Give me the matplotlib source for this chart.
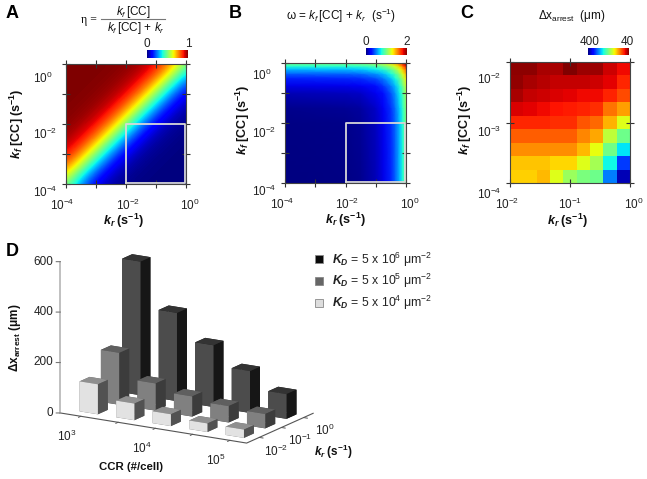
import numpy as np
import matplotlib
matplotlib.use('Agg')
import matplotlib.pyplot as plt
from matplotlib.colors import Normalize
from matplotlib.cm import ScalarMappable
from matplotlib.lines import Line2D
from matplotlib.transforms import ScaledTranslation

plt.rcParams['font.family'] = ['Liberation Sans', 'DejaVu Sans']
plt.rcParams['mathtext.fontset'] = 'custom'
plt.rcParams['mathtext.rm'] = 'Liberation Sans'
plt.rcParams['mathtext.it'] = 'Liberation Sans:italic'
plt.rcParams['mathtext.bf'] = 'Liberation Sans:bold'
plt.rcParams['mathtext.bfit'] = 'Liberation Sans:italic:bold'

W, H = 647, 479

# panel A, efficiency read on half decade steps, top row first
eta = [
    [1.000, 1.000, 0.999, 0.997, 0.990, 0.969, 0.909, 0.760, 0.500],
    [1.000, 0.999, 0.997, 0.990, 0.969, 0.909, 0.760, 0.500, 0.240],
    [0.999, 0.997, 0.990, 0.969, 0.909, 0.760, 0.500, 0.240, 0.091],
    [0.997, 0.990, 0.969, 0.909, 0.760, 0.500, 0.240, 0.091, 0.031],
    [0.990, 0.969, 0.909, 0.760, 0.500, 0.240, 0.091, 0.031, 0.010],
    [0.969, 0.909, 0.760, 0.500, 0.240, 0.091, 0.031, 0.010, 0.003],
    [0.909, 0.760, 0.500, 0.240, 0.091, 0.031, 0.010, 0.003, 0.001],
    [0.760, 0.500, 0.240, 0.091, 0.031, 0.010, 0.003, 0.001, 0.000],
    [0.500, 0.240, 0.091, 0.031, 0.010, 0.003, 0.001, 0.000, 0.000],
]

# panel B, log10 positions of the samples and omega there, bottom row first
omega_exp = [-4, -2, -1.5, -1, -0.75, -0.5, -0.35, -0.2, -0.1, 0]
omega = [
    [0.00, 0.01, 0.03, 0.10, 0.18, 0.32, 0.45, 0.63, 0.79, 1.00],
    [0.01, 0.02, 0.04, 0.11, 0.19, 0.33, 0.46, 0.64, 0.80, 1.01],
    [0.03, 0.04, 0.06, 0.13, 0.21, 0.35, 0.48, 0.66, 0.82, 1.03],
    [0.10, 0.11, 0.13, 0.20, 0.28, 0.42, 0.55, 0.73, 0.89, 1.10],
    [0.18, 0.19, 0.21, 0.28, 0.36, 0.50, 0.63, 0.81, 0.97, 1.18],
    [0.32, 0.33, 0.35, 0.42, 0.50, 0.64, 0.77, 0.95, 1.11, 1.32],
    [0.45, 0.46, 0.48, 0.55, 0.63, 0.77, 0.90, 1.08, 1.24, 1.45],
    [0.63, 0.64, 0.66, 0.73, 0.81, 0.95, 1.08, 1.26, 1.42, 1.63],
    [0.79, 0.80, 0.82, 0.89, 0.97, 1.11, 1.24, 1.42, 1.58, 1.79],
    [1.00, 1.01, 1.03, 1.10, 1.18, 1.32, 1.45, 1.63, 1.79, 2.00],
]

# panel C, arrest distance in um, top row first
arrest = [
    [45, 45, 54, 54, 40, 49, 49, 65, 76],
    [47, 54, 58, 62, 62, 62, 65, 72, 87],
    [54, 62, 65, 69, 72, 76, 76, 85, 101],
    [69, 72, 76, 80, 83, 85, 90, 116, 134],
    [87, 87, 87, 90, 90, 105, 112, 141, 177],
    [108, 108, 108, 108, 108, 123, 137, 191, 227],
    [126, 126, 126, 126, 126, 144, 173, 225, 274],
    [148, 148, 148, 155, 155, 177, 202, 267, 335],
    [152, 152, 144, 177, 206, 220, 227, 310, 382],
]

# panel D, one list per KD, five CCR values each
bars_kd6 = [530, 350, 245, 166, 98]
bars_kd5 = [206, 108, 80, 65, 57]
bars_kd4 = [119, 66, 47, 34, 33]
kd_labels = [r'$\mathbfit{K}_{\mathbfit{D}}$ = 5 x 10$^{6}$ μm$^{-2}$',
             r'$\mathbfit{K}_{\mathbfit{D}}$ = 5 x 10$^{5}$ μm$^{-2}$',
             r'$\mathbfit{K}_{\mathbfit{D}}$ = 5 x 10$^{4}$ μm$^{-2}$']
ccr_labels = ['10$^{3}$', '10$^{4}$', '10$^{5}$']
kr_labels = ['10$^{-2}$', '10$^{-1}$', '10$^{0}$']
z_ticks = [0, 200, 400, 600]

fig = plt.figure(figsize=(W / 100, H / 100), dpi=100)


def axes_px(x0, y0, x1, y1, **kw):
    return fig.add_axes([x0 / W, 1 - y1 / H, (x1 - x0) / W, (y1 - y0) / H], **kw)


def text_px(x, y, s, **kw):
    kw.setdefault('ha', 'center')
    kw.setdefault('va', 'center')
    kw.setdefault('color', '#111111')
    return fig.text(x / W, 1 - y / H, s, **kw)


def decade_ticks(ax, xt, xl, xoff, yt, yl, yoff, minor=()):
    ax.set_xticks(xt)
    ax.set_xticklabels(xl, fontsize=8.5)
    ax.set_yticks(yt)
    ax.set_yticklabels(yl, fontsize=8.5)
    ax.set_xticks(minor, minor=True)
    ax.set_yticks(minor, minor=True)
    ax.tick_params(which='both', direction='inout', length=6, width=0.8, color='#333333',
                   top=True, right=True, pad=7, labelcolor='#222222')
    for lab, dx in zip(ax.get_xticklabels(), xoff):
        lab.set_transform(lab.get_transform() + ScaledTranslation(dx / 100, 0, fig.dpi_scale_trans))
    # the y labels line up on their left edge in the original
    for lab, dy in zip(ax.get_yticklabels(), yoff):
        lab.set_ha('left')
        lab.set_transform(lab.get_transform() + ScaledTranslation(-0.19, -dy / 100, fig.dpi_scale_trans))
    for s in ax.spines.values():
        s.set_color('#444444')
        s.set_linewidth(0.8)


def colorbar_px(x0, y0, x1, y1, norm, cmap, ticks, labels, invert=False):
    cax = axes_px(x0, y0, x1, y1)
    cb = fig.colorbar(ScalarMappable(norm=norm, cmap=cmap), cax=cax, orientation='horizontal')
    cb.set_ticks(ticks)
    cb.set_ticklabels(labels, fontsize=8.5, color='#222222')
    cax.xaxis.set_ticks_position('top')
    cax.tick_params(length=0, pad=0)
    cb.outline.set_visible(False)
    if invert:
        cax.invert_xaxis()


def white_box(ax):
    ax.plot([-2, -2, -0.03, -0.03, -2], [-3.97, -2, -2, -3.97, -3.97], color='#d8d8d8', lw=1.3)


kf_label = r'$\mathbfit{k}_{\mathbfit{f}}\ \mathbf{[CC]}\;\mathbf{(s^{-1})}$'
kr_label = r'$\mathbfit{k}_{\mathbfit{r}}\;\mathbf{(s^{-1})}$'
dec_major = [-4, -2, 0]
dec_minor = [-3, -1]
dec_lab = ['10$^{-4}$', '10$^{-2}$', '10$^{0}$']

# A
axA = axes_px(65.5, 64, 186, 184)
axA.imshow(eta, cmap='jet', vmin=0, vmax=1, extent=(-4.25, 0.25, -4.25, 0.25),
           interpolation='bicubic', aspect='auto')
axA.set_xlim(-4, 0)
axA.set_ylim(-4, 0)
white_box(axA)
decade_ticks(axA, dec_major, dec_lab, [-3, 2, 4], dec_major, dec_lab, [7, 9, 13], dec_minor)
colorbar_px(147, 50, 188, 58, Normalize(0, 1), 'jet', [0, 1], ['0', '1'])
text_px(17, 124, kf_label, rotation=90, fontsize=9)
text_px(123, 221, kr_label, fontsize=9)
text_px(133, 12, r'$k_f\,$[CC]', fontsize=8.5)
text_px(136, 28, r'$k_f\,$[CC] + $k_r$', fontsize=8.5)
text_px(89, 20, 'η =', fontsize=8.5, family='Liberation Serif')
fig.add_artist(Line2D([101 / W, 165 / W], [1 - 18.5 / H, 1 - 18.5 / H], color='#777777', lw=0.8))

# B
axB = axes_px(285, 63, 406, 183)
axB.pcolormesh(omega_exp, omega_exp, omega, cmap='jet', vmin=0, vmax=2, shading='gouraud')
axB.set_xlim(-4, 0)
axB.set_ylim(-4, 0)
white_box(axB)
decade_ticks(axB, dec_major, dec_lab, [-3, 2, 4], dec_major, dec_lab, [7, 9, 11], dec_minor)
colorbar_px(366, 48, 407, 55, Normalize(0, 2), 'jet', [0, 2], ['0', '2'])
text_px(243, 120, kf_label, rotation=90, fontsize=9)
text_px(345, 220, kr_label, fontsize=9)
text_px(341, 16, r'ω = $k_f\,$[CC] + $k_r$  (s$^{-1}$)', fontsize=8.5)

# C
c_edges_x = np.linspace(-2, 0, 10)
c_edges_y = np.linspace(-2, -4, 10)
axC = axes_px(510, 62, 630, 183)
axC.pcolormesh(c_edges_x, c_edges_y, arrest, cmap='jet_r', vmin=40, vmax=400)
axC.set_xlim(-2, 0)
axC.set_ylim(-4, -2)
decade_ticks(axC, [-2, -1, 0], ['10$^{-2}$', '10$^{-1}$', '10$^{0}$'], [-3, 0, 4],
             [-4, -3, -2], ['10$^{-4}$', '10$^{-3}$', '10$^{-2}$'], [10, 8, 16])
colorbar_px(588, 48, 629, 55, Normalize(40, 400), 'jet_r', [385, 55], ['400', '40'], invert=True)
text_px(465, 120, kf_label, rotation=90, fontsize=9)
text_px(567, 221, kr_label, fontsize=9)
text_px(572, 16, r'Δx$_{\mathrm{arrest}}$  (μm)', fontsize=8.5)

# D
axD = fig.add_axes([22.4 / W, -22.8 / H, 320 / W, 320 / H], projection='3d', proj_type='ortho',
                   computed_zorder=False, zorder=-1)
axD.view_init(elev=15.6, azim=-59)
axD.set_box_aspect((653, 388, 472), zoom=0.903)
axD.patch.set_alpha(0)

# colours are -z, +z, -y, +y, -x, +x
face_k = ['#222222', '#333333', '#4c4c4c', '#222222', '#222222', '#161616']
face_g = ['#444444', '#5f5f5f', '#808080', '#444444', '#444444', '#3c3c3c']
face_w = ['#666666', '#8f8f8f', '#e2e2e2', '#666666', '#666666', '#525252']
rows = [(2, bars_kd6, face_k), (1, bars_kd5, face_g), (0, bars_kd4, face_w)]
z = 10
for j, vals, faces in rows:
    for i, v in enumerate(vals):
        b = axD.bar3d(0.31 + 0.98 * i, 0.35 + 0.96 * j, 0, 0.49, 0.45, v, color=faces,
                      shade=False, linewidth=0)
        b.set_zorder(z)
        z += 1

axD.plot([0, 5, 5], [0, 0, 3], [0, 0, 0], color='#555555', lw=0.8, zorder=1)
axD.plot([0, 0], [0, 0], [0, 600], color='#bbbbbb', lw=1.3, zorder=1)
for t in z_ticks:
    axD.plot([0, -0.08], [0, -0.048], [t, t], color='#777777', lw=0.8, zorder=1)
    axD.text(-0.14, -0.08, t, str(t), ha='right', va='center', fontsize=8.5, color='#222222')
for i in range(5):
    axD.plot([0.55 + i, 0.55 + i], [0, -0.1], [0, 0], color='#555555', lw=0.7, zorder=1)
for i, lab in zip([0.55, 2.55, 4.55], ccr_labels):
    axD.text(i, -0.63, -54, lab, ha='center', va='center', fontsize=8.5, color='#222222')
for y in [0.57, 1.57, 2.57]:
    axD.plot([5, 5.1], [y, y], [0, 0], color='#555555', lw=0.7, zorder=1)
for y, lab in zip([0.57, 1.65, 2.75], kr_labels):
    axD.text(5.46, y, -45, lab, ha='center', va='center', fontsize=8.5, color='#222222')
axD.set_xlim(0, 5, view_margin=0)
axD.set_ylim(0, 3, view_margin=0)
axD.set_zlim(0, 600, view_margin=0)
axD.set_xticks([])
axD.set_yticks([])
axD.set_zticks([])
axD.set_axis_off()

text_px(15, 338, r'$\mathbf{\Delta x}_{\mathbf{arrest}}\ \mathbf{(\mu m)}$', rotation=90, fontsize=8.5)
text_px(131, 467, 'CCR (#/cell)', fontsize=8.2, fontweight='bold')
text_px(333, 452, kr_label, fontsize=8.5)

# legend squares
handles = [Line2D([], [], ls='none', marker='s', ms=6, mfc=c, mec='#888888', mew=0.6)
           for c in ['#0a0a0a', '#666666', '#dddddd']]
fig.legend(handles, kd_labels, loc='upper left', bbox_to_anchor=(313 / W, 1 - 250.5 / H),
           frameon=False, fontsize=8.8, labelspacing=0.28, handlelength=1, handletextpad=0.57,
           borderpad=0, borderaxespad=0, labelcolor='#222222')

for s, x, y in [('A', 12, 13), ('B', 235, 13), ('C', 467, 14), ('D', 12, 251)]:
    text_px(x, y, s, fontsize=13, fontweight='bold', color='black')

fig.savefig('out.png', dpi=100)
